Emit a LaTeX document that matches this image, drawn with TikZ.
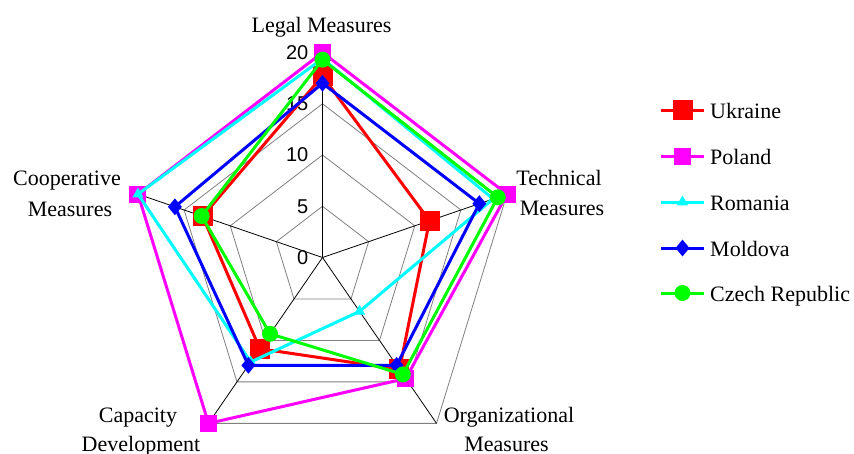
\documentclass[tikz,border=0pt]{standalone}
\usepackage{fontspec}
\setmainfont{Liberation Serif}
\newfontfamily\numfont{Liberation Sans}
\usetikzlibrary{shapes.geometric}
\definecolor{cUkr}{RGB}{255,0,0}
\definecolor{cPol}{RGB}{255,0,255}
\definecolor{cRom}{RGB}{0,255,255}
\definecolor{cMol}{RGB}{0,0,255}
\definecolor{cCze}{RGB}{0,255,0}
\definecolor{gridgray}{RGB}{128,128,128}
\begin{document}
\begin{tikzpicture}[x=1pt,y=-1pt,
  gridline/.style={draw=gridgray, line width=0.8pt},
  axisline/.style={draw=black, line width=0.8pt},
  series/.style={line width=3pt, line join=miter},
  sqmark/.style={rectangle, fill=#1, minimum size=20pt, inner sep=0pt},
  sqsmall/.style={rectangle, fill=#1, minimum size=17pt, inner sep=0pt},
  trimark/.style={regular polygon, regular polygon sides=3, fill=#1, minimum size=13pt, inner sep=0pt},
  diamark/.style={diamond, fill=#1, minimum width=14pt, minimum height=17pt, inner sep=0pt},
  cirmark/.style={circle, fill=#1, minimum size=16pt, inner sep=0pt},
  lbl/.style={font=\fontsize{22}{26}\selectfont, anchor=base, inner sep=0pt},
  leglbl/.style={font=\fontsize{22}{26}\selectfont, anchor=base west, inner sep=0pt},
  num/.style={font=\numfont\fontsize{20}{24}\selectfont, anchor=east, inner sep=0pt}]
\useasboundingbox (0,0) rectangle (854,453);
\fill[white] (0,0) rectangle (854,453);
\begin{scope}[shift={(322.5,257.5)}, x=9.7pt, y=10.25pt]
  \coordinate (C) at (0,0);
  % grid
  \foreach \r in {5,10,15,20}
    \draw[gridline] (90:\r) -- (18:\r) -- (-54:\r) -- (-126:\r) -- (162:\r) -- cycle;
  % axes
  \coordinate (aL) at (90:20);
  \coordinate (aT) at (18:20);
  \coordinate (aO) at (-54:20);
  \coordinate (aC) at (-126:20);
  \coordinate (aK) at (162:20);
  \foreach \a in {aL,aT,aO,aC,aK} \draw[axisline] (C) -- (\a);
  % scale labels
  \foreach \r/\t in {0/0,5/5,10/10,15/15,20/20}
    \node[num, xshift=-14pt] (n\r) at (0,\r) {\t};
  % Ukraine
  \coordinate (u1) at (90:17.7);
  \coordinate (u2) at (18:11.6);
  \coordinate (u3) at (-54:13.5);
  \coordinate (u4) at (-126:11);
  \coordinate (u5) at (162:13);
  \draw[series, cUkr] (u1) -- (u2) -- (u3) -- (u4) -- (u5) -- cycle;
  \foreach \p in {u1,u2,u3,u4,u5} \node[sqmark=cUkr] at (\p) {};
  % Poland
  \coordinate (p1) at (90:20);
  \coordinate (p2) at (18:20);
  \coordinate (p3) at (-54:14.6);
  \coordinate (p4) at (-126:20);
  \coordinate (p5) at (162:20);
  \draw[series, cPol] (p1) -- (p2) -- (p3) -- (p4) -- (p5) -- cycle;
  \foreach \p in {p1,p2,p3,p4,p5} \node[sqsmall=cPol] at (\p) {};
  % Romania
  \coordinate (r1) at (90:19.4);
  \coordinate (r2) at (18:18.5);
  \coordinate (r3) at (-54:6.5);
  \coordinate (r4) at (-126:12.6);
  \coordinate (r5) at (162:20);
  \draw[series, cRom] (r1) -- (r2) -- (r3) -- (r4) -- (r5) -- cycle;
  \foreach \p in {r1,r2,r3,r4,r5} \node[trimark=cRom] at (\p) {};
  % Moldova
  \coordinate (m1) at (90:17);
  \coordinate (m2) at (18:17);
  \coordinate (m3) at (-54:13);
  \coordinate (m4) at (-126:13);
  \coordinate (m5) at (162:16);
  \draw[series, cMol] (m1) -- (m2) -- (m3) -- (m4) -- (m5) -- cycle;
  \foreach \p in {m1,m2,m3,m4,m5} \node[diamark=cMol] at (\p) {};
  % Czech Republic
  \coordinate (c1) at (90:19.3);
  \coordinate (c2) at (18:19);
  \coordinate (c3) at (-54:14.1);
  \coordinate (c4) at (-126:9.2);
  \coordinate (c5) at (162:13.1);
  \draw[series, cCze] (c1) -- (c2) -- (c3) -- (c4) -- (c5) -- cycle;
  \foreach \p in {c1,c2,c3,c4,c5} \node[cirmark=cCze] at (\p) {};
\end{scope}
% category labels
\node[lbl] (legal) at (321.5,32) {Legal Measures};
\node[lbl] (tech1) at (559,185) {Technical};
\node[lbl] (tech2) at (562,215) {Measures};
\node[lbl] (org1) at (509,422) {Organizational};
\node[lbl] (org2) at (506.5,451) {Measures};
\node[lbl] (cap1) at (138,422) {Capacity};
\node[lbl] (cap2) at (141,451) {Development};
\node[lbl] (coop1) at (67,185) {Cooperative};
\node[lbl] (coop2) at (70,216) {Measures};
% legend
\foreach \y/\c/\m/\t [count=\i] in {110/cUkr/sqmark/Ukraine,156/cPol/sqsmall/Poland,202/cRom/trimark/Romania,248/cMol/diamark/Moldova,293/cCze/cirmark/Czech Republic}{
  \coordinate (ls\i) at (661,\y);
  \coordinate (le\i) at (704,\y);
  \draw[series, \c] (ls\i) -- (le\i);
  \node[\m=\c] (lm\i) at (682.5,\y) {};
  \node[leglbl] (lt\i) at (710,\y+8) {\t};
}
\end{tikzpicture}
\end{document}
